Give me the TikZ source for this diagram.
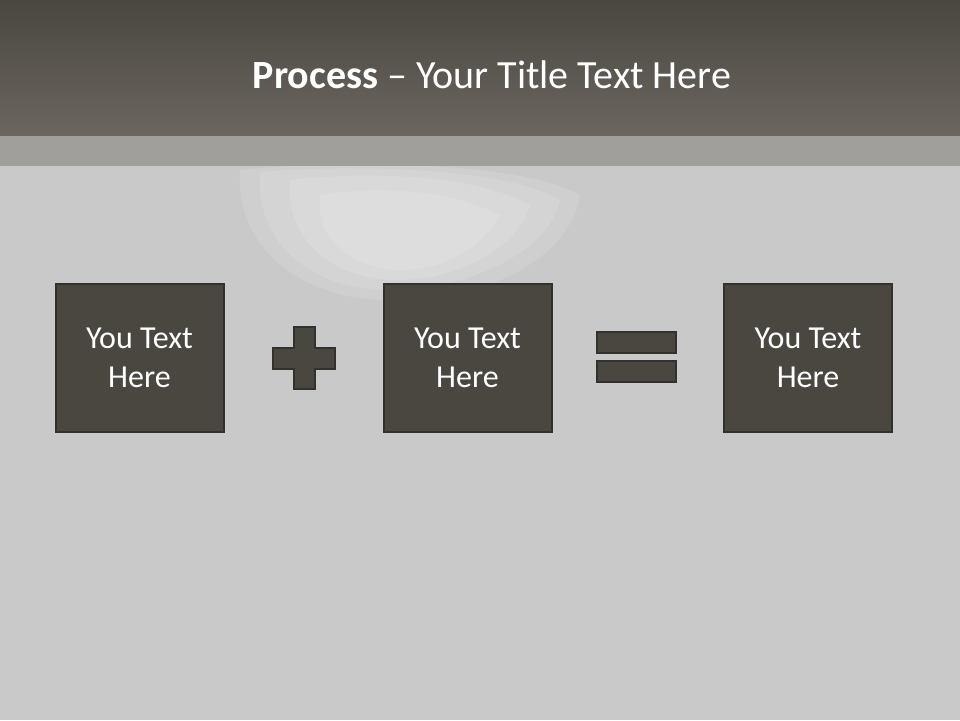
\documentclass[tikz,border=0pt]{standalone}
\usepackage{fontspec}
\setmainfont{Carlito}
\definecolor{hdtop}{HTML}{4A4740}
\definecolor{hdbot}{HTML}{6B6660}
\definecolor{band}{HTML}{A19F9C}
\definecolor{bg}{HTML}{CAC9C9}
\definecolor{boxfill}{HTML}{4A4741}
\definecolor{boxline}{HTML}{33312D}
\tikzset{
  txtbox/.style={draw=boxline, fill=boxfill, line width=2pt, minimum width=168pt, minimum height=148pt, inner sep=0pt, text=white, align=center, font=\fontsize{32}{39}\selectfont},
  symb/.style={draw=boxline, fill=boxfill, line width=2pt},
  glow/.style={white, opacity=0.12}
}
\begin{document}
\begin{tikzpicture}[x=1pt,y=-1pt]
\useasboundingbox (0,0) rectangle (960,720);
\fill[bg] (0,0) rectangle (960,720);
% faint background figure
\fill[glow] (240,170) .. controls (330,160) and (520,160) .. (580,195) .. controls (570,260) and (480,305) .. (380,300) .. controls (290,295) and (235,240) .. (240,170) -- cycle;
\fill[glow] (260,172) .. controls (340,165) and (500,165) .. (560,200) .. controls (550,250) and (470,292) .. (380,290) .. controls (300,285) and (255,235) .. (260,172) -- cycle;
\fill[glow] (290,180) .. controls (360,172) and (470,172) .. (530,205) .. controls (520,245) and (460,282) .. (390,280) .. controls (320,275) and (285,230) .. (290,180) -- cycle;
\fill[glow] (320,195) .. controls (380,185) and (450,190) .. (500,215) .. controls (480,250) and (440,272) .. (395,270) .. controls (345,265) and (315,235) .. (320,195) -- cycle;
\shade[top color=hdtop, bottom color=hdbot] (0,0) rectangle (960,136);
\fill[band] (0,136) rectangle (960,166);
\node (title) at (492,75) {\fontsize{40}{48}\selectfont\color{white}\textbf{Process} -- Your Title Text Here};
\node[txtbox] (b1) at (139.5,357.5) {You Text\\Here};
\node[txtbox] (b2) at (467.5,357.5) {You Text\\Here};
\node[txtbox] (b3) at (808,357.5) {You Text\\Here};
% plus
\draw[symb] (293.5,327) -- (315,327) -- (315,347.5) -- (335,347.5) -- (335,369) -- (315,369) -- (315,389) -- (293.5,389) -- (293.5,369) -- (273,369) -- (273,347.5) -- (293.5,347.5) -- cycle;
% equals
\draw[symb] (597,332) rectangle (676,352.5);
\draw[symb] (597,361) rectangle (676,382);
\end{tikzpicture}
\end{document}
